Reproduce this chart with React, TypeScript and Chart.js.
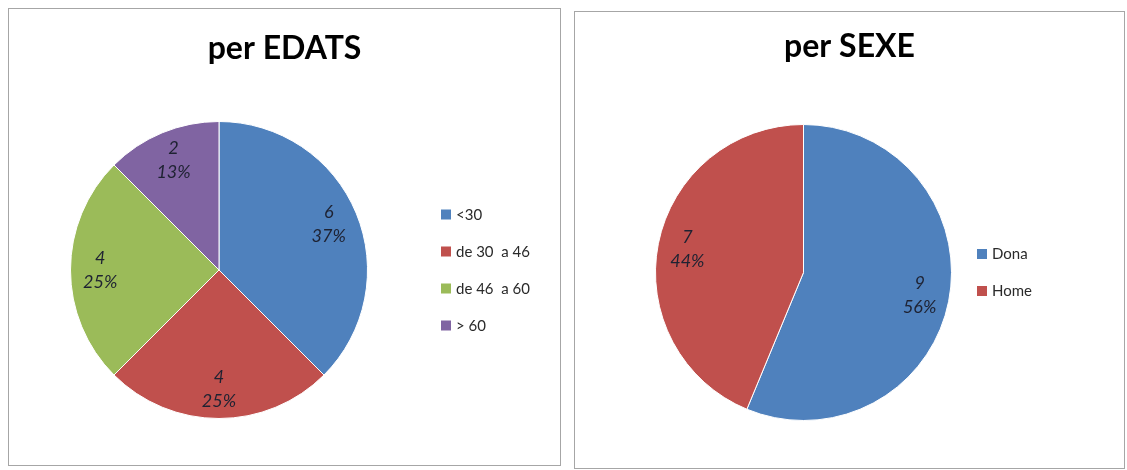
import React, { useEffect, useRef } from "react";
import { Chart, registerables } from "chart.js";

Chart.register(...registerables);

const ageCategories = ["<30", "de 30  a 46", "de 46  a 60", "> 60"];
const ageValues = [6, 4, 4, 2];
const agePercents = ["37%", "25%", "25%", "13%"];
const ageColors = ["#4F81BD", "#C0504D", "#9BBB59", "#8064A2"];

const sexCategories = ["Dona", "Home"];
const sexValues = [9, 7];
const sexPercents = ["56%", "44%"];
const sexColors = ["#4F81BD", "#C0504D"];

const FONT = "Lato, 'Open Sans', sans-serif";

const excelPlugin = {
  id: "excelDecor",
  afterDatasetsDraw(chart: any, _args: any, opts: any) {
    const ctx = chart.ctx;
    const meta = chart.getDatasetMeta(0);
    const ds = chart.data.datasets[0];
    const percents: string[] = opts.percents || [];
    ctx.save();
    // title
    ctx.fillStyle = "#000000";
    ctx.font = `bold 32px ${FONT}`;
    ctx.textAlign = "center";
    ctx.textBaseline = "middle";
    ctx.fillText(opts.title, chart.width / 2, opts.titleY);
    // data labels
    ctx.fillStyle = "#1e2232";
    ctx.font = `italic 18px ${FONT}`;
    meta.data.forEach((arc: any, i: number) => {
      const p = arc.getProps(["x", "y", "startAngle", "endAngle", "outerRadius"], true);
      const mid = (p.startAngle + p.endAngle) / 2;
      const r = p.outerRadius * 0.8;
      const cx = p.x + Math.cos(mid) * r;
      const cy = p.y + Math.sin(mid) * r;
      ctx.fillText(String(ds.data[i]), cx, cy - 12);
      ctx.fillText(percents[i] || "", cx, cy + 12);
    });
    // legend
    const labels: string[] = chart.data.labels;
    const colors: string[] = ds.backgroundColor;
    const gap = 37;
    const area = chart.chartArea;
    const centerY = (area.top + area.bottom) / 2;
    const x0 = area.right + opts.legendOffset;
    const y0 = centerY - ((labels.length - 1) * gap) / 2;
    ctx.font = `15px ${FONT}`;
    ctx.textAlign = "left";
    labels.forEach((lab, i) => {
      const y = y0 + i * gap;
      ctx.fillStyle = colors[i];
      ctx.fillRect(x0, y - 5, 10, 10);
      ctx.fillStyle = "#2a2a2a";
      ctx.fillText(lab, x0 + 15, y + 0.5);
    });
    ctx.restore();
  },
};

function PieChart(props: {
  title: string;
  titleY: number;
  labels: string[];
  values: number[];
  percents: string[];
  colors: string[];
  width: number;
  height: number;
  padding: { top: number; left: number; right: number; bottom: number };
  legendOffset: number;
}) {
  const ref = useRef<HTMLCanvasElement | null>(null);
  useEffect(() => {
    if (!ref.current) return;
    const chart = new Chart(ref.current, {
      type: "pie",
      data: {
        labels: props.labels,
        datasets: [
          {
            data: props.values,
            backgroundColor: props.colors,
            borderColor: "#ffffff",
            borderWidth: 1,
            hoverOffset: 0,
          },
        ],
      },
      options: {
        responsive: false,
        animation: false,
        events: [],
        layout: { padding: props.padding },
        plugins: {
          legend: { display: false },
          tooltip: { enabled: false },
          title: { display: false },
          excelDecor: {
            percents: props.percents,
            legendOffset: props.legendOffset,
            title: props.title,
            titleY: props.titleY,
          },
        } as any,
      },
      plugins: [excelPlugin],
    });
    return () => chart.destroy();
  }, []);
  return (
    <canvas
      ref={ref}
      width={props.width}
      height={props.height}
      style={{ display: "block", width: props.width, height: props.height }}
    />
  );
}

export default function App() {
  useEffect(() => {
    document.documentElement.style.overflow = "hidden";
    document.body.style.overflow = "hidden";
    document.body.style.margin = "0";
  }, []);
  const panel: React.CSSProperties = {
    position: "absolute",
    border: "1px solid #a6a6a6",
    background: "#ffffff",
    boxSizing: "content-box",
  };
  return (
    <div style={{ position: "relative", height: 470, width: 1127, overflow: "hidden", background: "#ffffff" }}>
      <div style={{ ...panel, left: 8, top: 8, width: 551, height: 456 }}>
        <PieChart
          title="per EDATS"
          titleY={40}
          labels={ageCategories}
          values={ageValues}
          percents={agePercents}
          colors={ageColors}
          width={551}
          height={456}
          padding={{ top: 112, left: 61, right: 192, bottom: 46 }}
          legendOffset={73}
        />
      </div>
      <div style={{ ...panel, left: 574, top: 11, width: 549, height: 456 }}>
        <PieChart
          title="per SEXE"
          titleY={35}
          labels={sexCategories}
          values={sexValues}
          percents={sexPercents}
          colors={sexColors}
          width={549}
          height={456}
          padding={{ top: 112, left: 80, right: 172, bottom: 47 }}
          legendOffset={25}
        />
      </div>
    </div>
  );
}
